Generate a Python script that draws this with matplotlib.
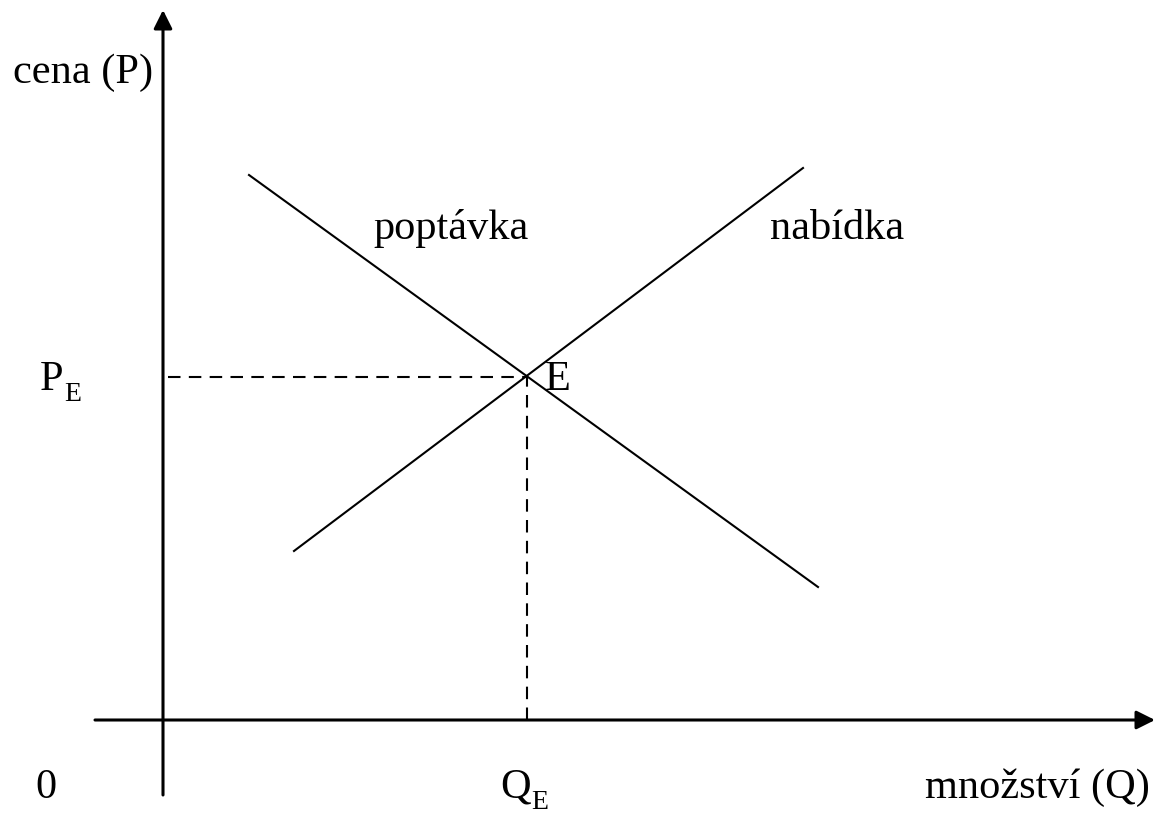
import matplotlib
matplotlib.use("Agg")
import matplotlib.pyplot as plt

plt.rcParams['font.family'] = ['Liberation Serif', 'DejaVu Serif']

# curves (quantity, price)
demand_q = [0.86, 6.55]
demand_p = [5.45, 1.33]
supply_q = [1.31, 6.40]
supply_p = [1.69, 5.52]
eq_q = 3.64
eq_p = 3.43

# axes extent
q_axis = [-0.68, 9.92]
p_axis = [-0.75, 7.10]

fig = plt.figure(figsize=(11.59, 8.17), dpi=100)
ax = fig.add_axes([0, 0, 1, 1])
ax.set_xlim(-1.63, 9.96)
ax.set_ylim(-0.97, 7.20)
ax.axis('off')

arrow = dict(arrowstyle='-|>,head_length=0.8,head_width=0.4', mutation_scale=14,
             lw=2.2, color='black', shrinkA=0, shrinkB=0)
ax.annotate('', xy=(q_axis[1], 0), xytext=(q_axis[0], 0), arrowprops=arrow)
ax.annotate('', xy=(0, p_axis[1]), xytext=(0, p_axis[0]), arrowprops=arrow)

ax.plot(demand_q, demand_p, color='black', lw=1.5)
ax.plot(supply_q, supply_p, color='black', lw=1.5)

ax.plot([0.05, eq_q], [eq_p, eq_p], color='black', lw=1.5, ls=(0, (6, 4)))
ax.plot([eq_q, eq_q], [0, eq_p], color='black', lw=1.5, ls=(0, (6, 4)))

fs = 30.5
sub = 20


def label(x, y, main, subscript=None):
    t = ax.text(x, y, main, fontsize=fs, va='baseline')
    if subscript:
        ax.annotate(subscript, xy=(1, 0), xycoords=t, xytext=(0.5, -5.5),
                    textcoords='offset points', fontsize=sub, va='bottom')


label(-1.50, 6.37, 'cena (P)')
label(2.10, 4.81, 'poptávka')
label(6.07, 4.81, 'nabídka')
label(-1.23, 3.30, 'P', 'E')
label(3.82, 3.30, 'E')
label(-1.28, -0.78, '0')
label(3.37, -0.78, 'Q', 'E')
label(7.62, -0.78, 'množství (Q)')

fig.savefig('out.png', dpi=100)
